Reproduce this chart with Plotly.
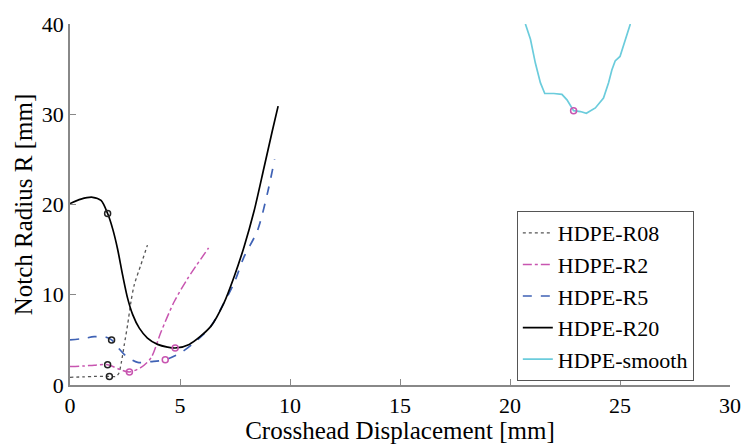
import plotly.graph_objects as go

# HDPE-R08 (dotted)
r08_x = [0.0, 0.6, 1.1, 1.79, 2.09, 2.22, 2.34, 2.47, 2.62, 2.77, 2.92, 3.22, 3.52]
r08_y = [0.85, 0.9, 0.95, 0.95, 0.95, 1.3, 2.6, 4.5, 6.7, 9.2, 11.1, 13.3, 15.5]

# HDPE-R2 (dash-dot)
r2_x = [0.0, 0.6, 1.1, 1.71, 2.24, 2.7, 3.23, 3.68, 4.14, 4.74, 5.35, 6.3]
r2_y = [2.05, 2.1, 2.2, 2.25, 1.75, 1.45, 1.95, 3.0, 5.9, 9.25, 11.8, 15.2]

# HDPE-R5 (dashed)
r5_x = [0.0, 0.6, 1.1, 1.56, 1.89, 2.2, 2.55, 3.08, 3.68, 4.33, 5.05, 5.65, 6.4, 7.0, 7.46, 7.91, 8.52, 8.97, 9.3]
r5_y = [5.0, 5.15, 5.35, 5.35, 5.0, 4.1, 3.2, 2.5, 2.6, 2.8, 3.6, 4.7, 6.5, 9.1, 11.3, 14.2, 17.1, 21.2, 25.0]

# HDPE-R20 (solid)
r20_x = [0.0, 0.5, 1.03, 1.41, 1.71, 1.94, 2.16, 2.39, 2.62, 2.85, 3.15, 3.52, 3.98, 4.43, 4.78, 5.42, 6.4, 7.0,
         7.46, 7.91, 8.37, 8.82, 9.2, 9.46]
r20_y = [20.1, 20.6, 20.8, 20.45, 19.0, 17.3, 15.1, 12.2, 9.6, 7.8, 6.3, 5.2, 4.5, 4.2, 4.1, 4.5, 6.5, 9.1,
         12.0, 15.3, 19.3, 24.1, 28.2, 30.9]

# HDPE-smooth
sm_x = [20.7, 20.93, 21.15, 21.38, 21.58, 21.99, 22.36, 22.59, 22.89, 23.2, 23.47, 23.88, 24.25, 24.48, 24.63, 24.78, 25.0, 25.21, 25.47]
sm_y = [40.0, 38.3, 35.7, 33.5, 32.3, 32.3, 32.2, 31.6, 30.4, 30.3, 30.1, 30.7, 31.8, 33.5, 34.9, 35.9, 36.4, 37.9, 40.0]

# marker points
blk_mx = [1.79, 1.71, 1.89, 1.71]
blk_my = [0.95, 2.25, 5.0, 19.0]
mag_mx = [2.7, 4.33, 4.78, 22.89]
mag_my = [1.45, 2.8, 4.1, 30.4]

names = ["HDPE-R08", "HDPE-R2", "HDPE-R5", "HDPE-R20", "HDPE-smooth"]
MAG = "#C855B0"
BLUE = "#3F62B5"
CYAN = "#6BCCDC"
FONT = "Liberation Serif"
FS = 25
TFS = 22

fig = go.Figure()
fig.add_trace(go.Scatter(x=r08_x, y=r08_y, name=names[0], mode="lines",
                         line=dict(color="#555555", width=1.3, dash="dot", shape="spline", smoothing=0.8)))
fig.add_trace(go.Scatter(x=r2_x, y=r2_y, name=names[1], mode="lines",
                         line=dict(color=MAG, width=1.5, dash="dashdot", shape="spline", smoothing=0.8)))
fig.add_trace(go.Scatter(x=r5_x, y=r5_y, name=names[2], mode="lines",
                         line=dict(color=BLUE, width=1.7, dash="dash", shape="spline", smoothing=0.8)))
fig.add_trace(go.Scatter(x=r20_x, y=r20_y, name=names[3], mode="lines",
                         line=dict(color="black", width=1.7, shape="spline", smoothing=0.8)))
fig.add_trace(go.Scatter(x=sm_x, y=sm_y, name=names[4], mode="lines",
                         line=dict(color=CYAN, width=1.7)))
fig.add_trace(go.Scatter(x=blk_mx, y=blk_my, mode="markers", showlegend=False,
                         marker=dict(symbol="circle-open", size=6, color="#222222", line=dict(width=1.5))))
fig.add_trace(go.Scatter(x=mag_mx, y=mag_my, mode="markers", showlegend=False,
                         marker=dict(symbol="circle-open", size=6, color=MAG, line=dict(width=1.5))))

fig.update_layout(
    width=750, height=444,
    margin=dict(l=70, r=20, t=20, b=59),
    paper_bgcolor="white", plot_bgcolor="white",
    font=dict(family=FONT, size=FS, color="black"),
    showlegend=True,
    legend=dict(x=0.677, y=0.482, xanchor="left", yanchor="top",
                bordercolor="#555555", borderwidth=1, bgcolor="white",
                font=dict(family=FONT, size=22, color="black"), itemwidth=30, tracegroupgap=0),
    xaxis=dict(range=[0, 30], tickvals=[0, 5, 10, 15, 20, 25, 30],
               ticks="inside", ticklen=6, tickcolor="#888888",
               tickfont=dict(family=FONT, size=TFS, color="black"),
               showline=True, linecolor="#888888", linewidth=1.5,
               showgrid=False, zeroline=False, automargin=False,
               title=dict(text="Crosshead Displacement [mm]",
                          font=dict(family=FONT, size=FS, color="black"))),
    yaxis=dict(range=[0, 40], tickvals=[0, 10, 20, 30, 40],
               ticks="inside", ticklen=6, tickcolor="#888888",
               tickfont=dict(family=FONT, size=TFS, color="black"),
               showline=True, linecolor="#888888", linewidth=1.5,
               showgrid=False, zeroline=False, automargin=True,
               title=dict(text="Notch Radius R [mm]", standoff=2,
                          font=dict(family=FONT, size=FS, color="black"))),
)

fig.write_html("out.html")
